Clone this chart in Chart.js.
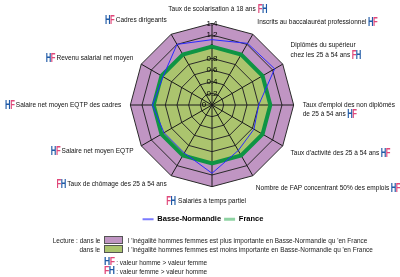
<!DOCTYPE html>
<html><head><meta charset="utf-8">
<script src="https://cdn.jsdelivr.net/npm/chart.js@4.4.1/dist/chart.umd.min.js"></script>
<style>
html,body{margin:0;padding:0;background:#fff;width:400px;height:277px;overflow:hidden;}
#wrap{position:relative;width:400px;height:277px;overflow:hidden;}
canvas{position:absolute;left:-4px;top:-2px;}
.nf{font-family:'Liberation Sans','Arial',sans-serif;}
.t{position:absolute;font-size:7.5px;line-height:9px;color:#222;white-space:nowrap;transform:scaleX(0.86);transform-origin:left center;}
.tr{transform-origin:right center;}
.box{position:absolute;width:17px;height:6px;border:1px solid #555;}
.mk{font-weight:bold;font-size:10px;letter-spacing:-0.6px;}
.h{color:#1f5aa6}.f{color:#e0487a}
</style></head><body>
<div id="wrap">
<canvas id="c" width="414" height="239"></canvas>
<div class="t tr nf" style="right:300px;top:235.5px">Lecture : dans le</div>
<div class="box" style="left:104px;top:236px;background:#c095c3"></div>
<div class="t nf" style="left:128px;top:235.5px">l 'inégalité hommes femmes est plus importante en Basse-Normandie qu 'en France</div>
<div class="t tr nf" style="right:300px;top:244.5px">dans le</div>
<div class="box" style="left:104px;top:245px;background:#abc46e"></div>
<div class="t nf" style="left:128px;top:244.5px">l 'inégalité hommes femmes est moins importante en Basse-Normandie qu 'en France</div>
<div class="t nf" style="left:104px;top:257px"><span class="mk"><span class="h">H</span><span class="f">F</span></span> : valeur homme &gt; valeur femme</div>
<div class="t nf" style="left:104px;top:266px"><span class="mk"><span class="f">F</span><span class="h">H</span></span> : valeur femme &gt; valeur homme</div>
</div>
<script>
const categories = [
  'Taux de scolarisation à 18 ans',
  'Inscrits au baccalauréat professionnel',
  ['Diplômés du supérieur', 'chez les 25 à 54 ans'],
  ["Taux d'emploi des non diplômés", 'de 25 à 54 ans'],
  "Taux d'activité des 25 à 54 ans",
  'Nombre de FAP concentrant 50% des emplois',
  'Salariés à temps partiel',
  'Taux de chômage des 25 à 54 ans',
  'Salaire net moyen EQTP',
  'Salaire net moyen EQTP des cadres',
  'Revenu salarial net moyen',
  'Cadres dirigeants'
];
const markers = ['FH','HF','FH','HF','HF','HF','FH','FH','HF','HF','HF','HF'];
const basseNormandie = [1.12, 1.22, 1.24, 0.80, 0.83, 0.90, 1.17, 0.95, 0.95, 1.02, 0.97, 1.20];
const france = [1, 1, 1, 1, 1, 1, 1, 1, 1, 1, 1, 1];
const outerBand = [1.4, 1.4, 1.4, 1.4, 1.4, 1.4, 1.4, 1.4, 1.4, 1.4, 1.4, 1.4];
const axisMin = 0, axisMax = 1.4, axisStep = 0.2;

const FONT = "'Liberation Sans',Arial,sans-serif";
const PAD_RIGHT = '     ';
const PAD_LEFT = '      ';
const labelLineHeight = ['7.8px', '9px', '9.5px', '9.5px', '6px', '14px', '7.8px', '2px', '2px', '7.8px', '2px', '13px'];
const labelPadding = [4.5, 3, 3, 3, 3, 0, 4.5, 3, 3, 3, 3, 3];

const displayLines = categories.map((c, i) => {
  const lines = Array.isArray(c) ? c.slice() : [c];
  if (i === 3) lines.unshift('');
  return lines;
});
const fitLabels = displayLines.map((lines, i) => {
  if (i === 0 || i === 6) return lines.length === 1 ? lines[0] : lines;
  const out = lines.slice();
  const k = out.length - 1;
  if (i < 6) out[k] = out[k] + PAD_RIGHT; else out[k] = PAD_LEFT + out[k];
  return out.length === 1 ? out[0] : out;
});

function drawMarker(ctx, str, x, y, align) {
  const sxScale = 0.64;
  ctx.save();
  ctx.font = "bold 12px " + FONT;
  ctx.textBaseline = 'middle';
  ctx.textAlign = 'left';
  const w1 = ctx.measureText(str[0]).width * sxScale;
  const w2 = ctx.measureText(str[1]).width * sxScale;
  const total = w1 + w2 - 0.5;
  const sx = align === 'left' ? x : x - total;
  const col = ch => ch === 'H' ? '#1f5aa6' : '#e0487a';
  ctx.translate(sx, y + 0.5);
  ctx.scale(sxScale, 1);
  ctx.fillStyle = col(str[0]);
  ctx.fillText(str[0], 0, 0);
  ctx.fillStyle = col(str[1]);
  ctx.fillText(str[1], (w1 - 0.5) / sxScale, 0);
  ctx.restore();
}

const markerPlugin = {
  id: 'hfMarkers',
  afterDraw(chart) {
    const scale = chart.scales.r;
    const items = scale._pointLabelItems;
    if (!items) return;
    const ctx = chart.ctx;
    ctx.save();
    for (let i = 0; i < items.length; i++) {
      const it = items[i];
      const o = scale.options.pointLabels.setContext(scale.getPointLabelContext(i));
      const f = Chart.helpers.toFont(o.font);
      const lines = displayLines[i];
      ctx.font = f.string;
      const lastW = ctx.measureText(lines[lines.length - 1]).width;
      const lh = f.lineHeight;
      const yMid = it.top + lh * (lines.length - 0.5);
      let x, align;
      if (i === 0) { x = it.right + 2; align = 'left'; }
      else if (i === 6) { x = it.left - 2; align = 'right'; }
      else if (i < 6) { x = it.left + lastW + 1.5; align = 'left'; }
      else { x = it.right - lastW - 1; align = 'right'; }
      drawMarker(ctx, markers[i], x, yMid, align);
    }
    const tf = Chart.helpers.toFont(scale.options.ticks.font);
    ctx.font = tf.string;
    ctx.fillStyle = '#000';
    ctx.textAlign = 'center';
    ctx.textBaseline = 'middle';
    ctx.fillText('0', scale.xCenter - 8, scale.yCenter);
    ctx.restore();
  }
};

new Chart(document.getElementById('c'), {
  type: 'radar',
  data: {
    labels: fitLabels,
    datasets: [
      { label: 'Basse-Normandie', data: basseNormandie, borderColor: '#2a2aff', borderWidth: 1,
        fill: false, pointRadius: 0, pointHoverRadius: 0 },
      { label: 'France', data: france, borderColor: '#0f9444', borderWidth: 4,
        backgroundColor: '#abc46e', fill: true, pointRadius: 0, pointHoverRadius: 0 },
      { label: 'outer', data: outerBand, borderWidth: 0, borderColor: 'rgba(0,0,0,0)',
        backgroundColor: '#c095c3', fill: true, pointRadius: 0, pointHoverRadius: 0 }
    ]
  },
  options: {
    responsive: false,
    animation: false,
    devicePixelRatio: 1,
    layout: { padding: { top: 0, bottom: 4, left: 0, right: 0 } },
    elements: { line: { tension: 0 } },
    plugins: {
      filler: { drawTime: 'beforeDraw' },
      tooltip: { enabled: false },
      legend: {
        position: 'bottom',
        labels: {
          usePointStyle: true,
          pointStyle: 'line',
          pointStyleWidth: 11,
          padding: 3,
          color: '#000',
          font: { family: FONT, size: 7.5, weight: 'bold' },
          filter: item => item.datasetIndex < 2,
          generateLabels: chart => {
            const base = Chart.defaults.plugins.legend.labels.generateLabels(chart);
            return base.map(it => {
              if (it.datasetIndex === 0) { it.strokeStyle = '#7a7aff'; it.lineWidth = 2; }
              if (it.datasetIndex === 1) { it.strokeStyle = '#8fd3a3'; it.lineWidth = 3; }
              it.pointStyle = 'line';
              return it;
            });
          }
        }
      }
    },
    scales: {
      r: {
        min: axisMin, max: axisMax,
        startAngle: 0,
        ticks: {
          stepSize: axisStep,
          showLabelBackdrop: false,
          color: '#000',
          font: { family: FONT, size: 8 },
          callback: v => String(Math.round(v * 10) / 10)
        },
        grid: { color: '#2a2a2a', lineWidth: 1 },
        angleLines: { color: '#1a1a1a', lineWidth: 1 },
        pointLabels: {
          color: '#111',
          font: c => ({ family: FONT, size: 6.5, lineHeight: labelLineHeight[c.index] }),
          padding: c => labelPadding[c.index]
        }
      }
    }
  },
  plugins: [markerPlugin]
});
</script>
</body></html>
